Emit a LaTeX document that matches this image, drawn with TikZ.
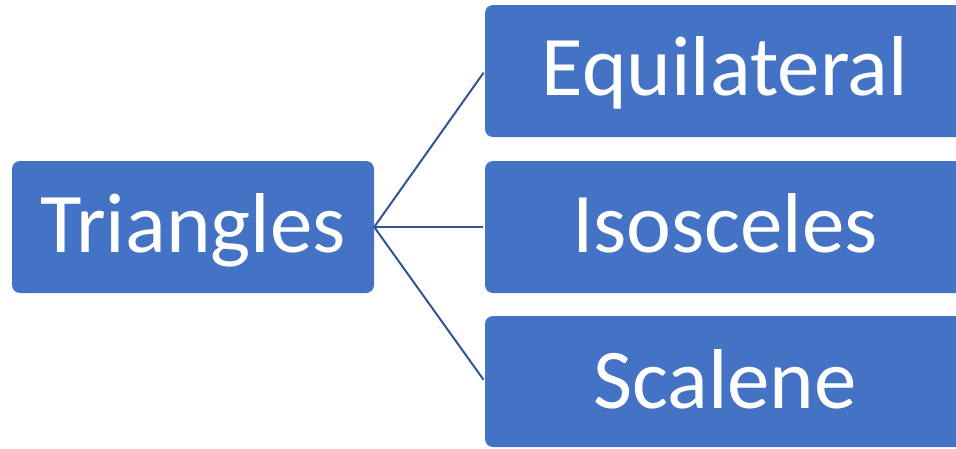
\documentclass[tikz,border=0pt]{standalone}
\usepackage{fontspec}
\setmainfont{Carlito}
\definecolor{boxblue}{HTML}{4472C4}
\definecolor{lineblue}{HTML}{2F5597}
\tikzset{
  blk/.style={fill=boxblue, rounded corners=8pt, draw=none, inner sep=0pt, rectangle},
  lbl/.style={text=white, anchor=base, inner sep=0pt, font=\fontsize{85}{100}\selectfont},
  conn/.style={draw=lineblue, line width=2pt, shorten >=2pt}
}
\begin{document}
\begin{tikzpicture}[x=1pt,y=-1pt]
\useasboundingbox (0,0) rectangle (956,448);
\clip (0,0) rectangle (956,448);
\node[blk, minimum width=362pt, minimum height=132pt] (tribox) at (193,227) {};
\node[blk, minimum width=481pt, minimum height=132pt] (equbox) at (725.5,71) {};
\node[blk, minimum width=481pt, minimum height=132pt] (isobox) at (725.5,227) {};
\node[blk, minimum width=481pt, minimum height=131pt] (scabox) at (725.5,381.5) {};
\node[lbl] (tri) at (193,252) {Triangles};
\node[lbl] (equ) at (725,95) {Equilateral};
\node[lbl] (iso) at (725,252) {Isosceles};
\node[lbl] (sca) at (725,408) {Scalene};
\draw[conn] (tribox.east) -- (equbox.west);
\draw[conn] (tribox.east) -- (isobox.west);
\draw[conn] (tribox.east) -- (scabox.west);
\end{tikzpicture}
\end{document}
